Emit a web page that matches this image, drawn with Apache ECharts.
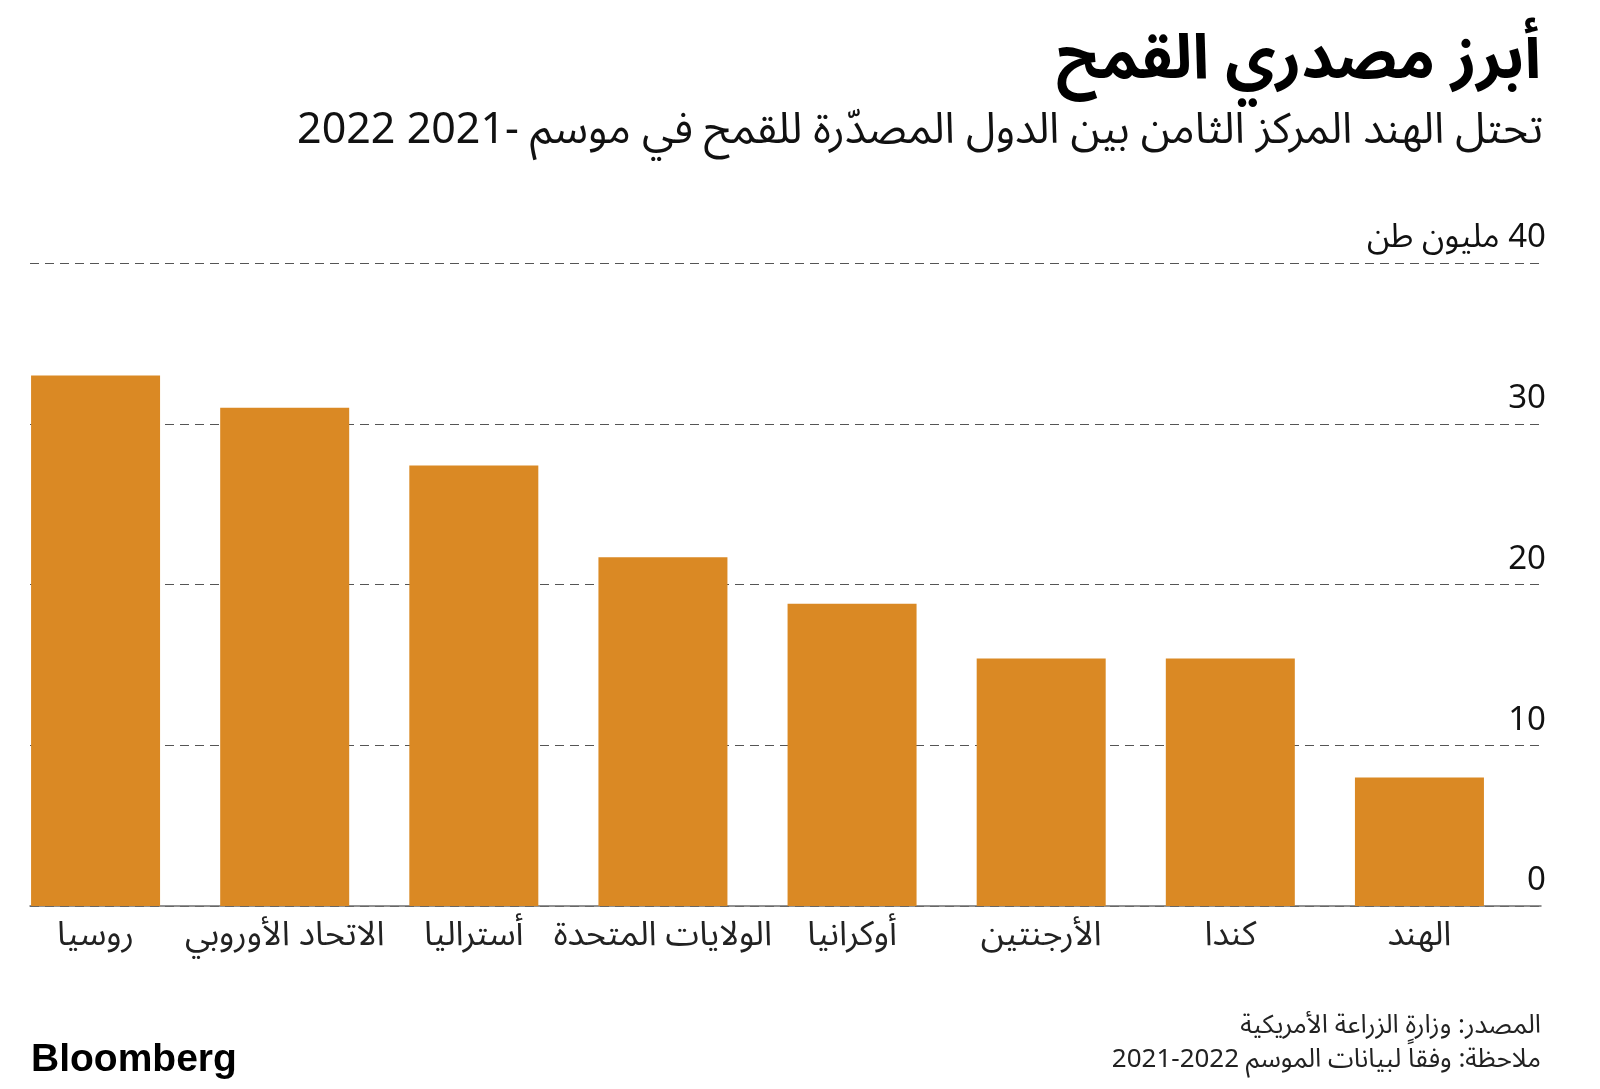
<!DOCTYPE html>
<html>
<head>
<meta charset="utf-8">
<script src="https://cdn.jsdelivr.net/npm/echarts@6/dist/echarts.min.js"></script>
<style>
  html, body { margin: 0; padding: 0; background: #ffffff; }
  #chart { width: 1600px; height: 1089px; direction: rtl; }
</style>
</head>
<body>
<div id="chart" dir="rtl"></div>
<script>
// Data
const categories = ['روسيا', 'الاتحاد الأوروبي', 'أستراليا', 'الولايات المتحدة', 'أوكرانيا', 'الأرجنتين', 'كندا', 'الهند'];
const exportsMt = [33.0, 31.0, 27.4, 21.7, 18.8, 15.4, 15.4, 8.0];
const yTicks = [0, 10, 20, 30, 40];
const yUnit = 'مليون طن';
const titleText = 'أبرز مصدري القمح';
const subtitleText = 'تحتل الهند المركز الثامن بين الدول المصدّرة للقمح في موسم -2021 2022';
const sourceText = 'المصدر: وزارة الزراعة الأمريكية';
const noteText = 'ملاحظة: وفقاً لبيانات الموسم 2022-2021';
const logoText = 'Bloomberg';

const AR = '"Noto Sans Arabic", "DejaVu Sans", sans-serif';
const barColor = '#DA8924';

const chart = echarts.init(document.getElementById('chart'), null, { renderer: 'canvas' });

const gridTop = 263, gridBottom = 183;

chart.setOption({
  backgroundColor: '#ffffff',
  animation: false,
  title: [
    { text: titleText, right: 54, top: 33,
      textStyle: { fontFamily: AR, fontSize: 62, fontWeight: 'bold', color: '#000' } },
    { text: subtitleText, right: 52, top: 110,
      textStyle: { fontFamily: AR, fontSize: 43, fontWeight: 'normal', color: '#111' } },
    { text: sourceText, right: 54, top: 1011,
      textStyle: { fontFamily: AR, fontSize: 26, fontWeight: 'normal', color: '#222' } },
    { text: noteText, right: 54, top: 1045,
      textStyle: { fontFamily: AR, fontSize: 26, fontWeight: 'normal', color: '#222' } },
    { text: logoText, left: 26, top: 1036,
      textStyle: { fontFamily: 'Liberation Sans, Arial, sans-serif', fontSize: 39, fontWeight: 'bold', color: '#000' } }
  ],
  grid: [
    { left: 30, right: 59, top: gridTop, bottom: gridBottom, containLabel: false },
    { left: 1, width: 1513, top: gridTop, bottom: gridBottom, containLabel: false }
  ],
  xAxis: [
    { type: 'category', gridIndex: 0, data: categories, boundaryGap: true,
      axisLine: { show: true, lineStyle: { color: '#6e6e6e', width: 1.5 } },
      axisTick: { show: false }, axisLabel: { show: false }, splitLine: { show: false } },
    { type: 'category', gridIndex: 1, data: categories, boundaryGap: true,
      axisLine: { show: false }, axisTick: { show: false },
      axisLabel: { show: true, interval: 0, margin: 17, fontFamily: AR, fontSize: 34, color: '#222' },
      splitLine: { show: false } }
  ],
  yAxis: [
    { type: 'value', gridIndex: 0, position: 'right', min: 0, max: 40, interval: 10,
      axisLine: { show: false }, axisTick: { show: false },
      splitLine: { show: true, lineStyle: { type: [9, 6], color: '#555', width: 1 } },
      axisLabel: {
        show: true, inside: true, margin: -5, align: 'right', verticalAlign: 'bottom',
        padding: [0, 0, 4, 0], fontFamily: AR, fontSize: 33, color: '#111',
        formatter: function (v) { return v === yTicks[yTicks.length - 1] ? v + ' ' + yUnit : String(v); }
      } },
    { type: 'value', gridIndex: 1, min: 0, max: 40, interval: 10, show: false,
      splitLine: { show: false } }
  ],
  series: [
    { type: 'bar', xAxisIndex: 1, yAxisIndex: 1, data: exportsMt, barWidth: 129,
      itemStyle: { color: barColor }, z: 5 }
  ]
});
</script>
</body>
</html>
